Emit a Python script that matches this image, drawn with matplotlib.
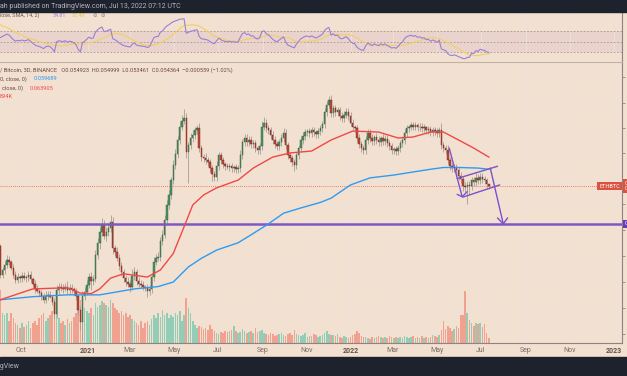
import numpy as np
import pandas as pd
import matplotlib
matplotlib.use("Agg")
import matplotlib.pyplot as plt
import matplotlib.dates as mdates
from matplotlib.patches import Rectangle
from matplotlib.transforms import blended_transform_factory

plt.rcParams['font.family'] = ['Roboto', 'DejaVu Sans']

# ETH/BTC, Binance, 3D candles; first visible candle opens 2020-09-02
first_day = "2020-09-02"

# closes before the visible range, only used to warm up the RSI
warmup_closes = [0.0255, 0.0258, 0.0262, 0.0258, 0.0256, 0.0262, 0.0283, 0.0303, 0.0292, 0.0300,
                 0.0338, 0.0340, 0.0333, 0.0345, 0.0355, 0.0346, 0.0338, 0.0352, 0.0360, 0.0389]

closes = [0.0331, 0.0340, 0.0350, 0.0360, 0.0356, 0.0344, 0.0331, 0.0322, 0.0327, 0.0325,
          0.0329, 0.0325, 0.0327, 0.0331, 0.0324, 0.0315, 0.0306, 0.0302, 0.0299, 0.0294,
          0.0288, 0.0294, 0.0296, 0.0293, 0.0285, 0.0266, 0.0304, 0.0310, 0.0308, 0.0306,
          0.0310, 0.0304, 0.0308, 0.0306, 0.0302, 0.0294, 0.0272, 0.0254, 0.0294, 0.0301,
          0.0313, 0.0327, 0.0320, 0.0324, 0.0370, 0.0395, 0.0420, 0.0437, 0.0412, 0.0420,
          0.0430, 0.0445, 0.0384, 0.0376, 0.0364, 0.0348, 0.0336, 0.0325, 0.0318, 0.0315,
          0.0310, 0.0329, 0.0336, 0.0320, 0.0315, 0.0313, 0.0310, 0.0308, 0.0302, 0.0306,
          0.0327, 0.0356, 0.0364, 0.0365, 0.0400, 0.0414, 0.0450, 0.0489, 0.0517, 0.0562,
          0.0611, 0.0650, 0.0703, 0.0758, 0.0783, 0.0795, 0.0657, 0.0683, 0.0711, 0.0723,
          0.0743, 0.0751, 0.0672, 0.0639, 0.0635, 0.0628, 0.0621, 0.0601, 0.0581, 0.0572,
          0.0607, 0.0646, 0.0628, 0.0614, 0.0607, 0.0604, 0.0607, 0.0601, 0.0604, 0.0598,
          0.0601, 0.0646, 0.0695, 0.0711, 0.0695, 0.0703, 0.0687, 0.0691, 0.0672, 0.0665,
          0.0679, 0.0758, 0.0775, 0.0751, 0.0743, 0.0723, 0.0703, 0.0687, 0.0679, 0.0695,
          0.0711, 0.0731, 0.0683, 0.0646, 0.0635, 0.0621, 0.0611, 0.0646, 0.0672, 0.0703,
          0.0719, 0.0735, 0.0739, 0.0731, 0.0743, 0.0735, 0.0727, 0.0739, 0.0751, 0.0768,
          0.0822, 0.0857, 0.0879, 0.0817, 0.0840, 0.0822, 0.0831, 0.0804, 0.0795, 0.0809,
          0.0822, 0.0804, 0.0775, 0.0758, 0.0751, 0.0711, 0.0687, 0.0672, 0.0665, 0.0703,
          0.0731, 0.0711, 0.0699, 0.0715, 0.0703, 0.0695, 0.0711, 0.0699, 0.0707, 0.0691,
          0.0679, 0.0665, 0.0668, 0.0661, 0.0672, 0.0691, 0.0703, 0.0731, 0.0751, 0.0758,
          0.0764, 0.0758, 0.0764, 0.0754, 0.0758, 0.0751, 0.0754, 0.0743, 0.0747, 0.0735,
          0.0743, 0.0739, 0.0731, 0.0743, 0.0683, 0.0672, 0.0665, 0.0628, 0.0607, 0.0601,
          0.0604, 0.0594, 0.0575, 0.0565, 0.0544, 0.0541, 0.0547, 0.0544, 0.0562, 0.0556,
          0.0569, 0.0562, 0.0572, 0.0565, 0.0562, 0.054923, 0.054364]

# wick lengths, percent above the body top / below the body bottom
wick_up = [1, 2, 2, 3, 2, 1, 2, 2, 2, 1,
           2, 2, 1, 2, 2, 1, 2, 2, 1, 2,
           2, 3, 2, 2, 1, 2, 3, 2, 2, 2,
           2, 3, 2, 2, 1, 2, 2, 2, 3, 3,
           3, 2, 3, 2, 3, 3, 3, 4, 3, 3,
           3, 4, 3, 2, 3, 2, 2, 2, 2, 3,
           2, 4, 3, 2, 2, 2, 2, 1, 2, 2,
           2, 3, 2, 3, 2, 3, 3, 3, 3, 2,
           3, 3, 2, 3, 3, 5, 3, 2, 3, 3,
           2, 2, 3, 2, 2, 3, 2, 2, 2, 2,
           3, 2, 2, 2, 1, 2, 2, 2, 1, 2,
           2, 3, 2, 2, 2, 2, 2, 2, 2, 1,
           2, 3, 3, 2, 2, 2, 2, 2, 2, 2,
           2, 3, 2, 2, 2, 2, 2, 2, 2, 2,
           2, 2, 1, 2, 2, 2, 1, 2, 2, 2,
           2, 2, 2, 3, 2, 2, 2, 2, 2, 2,
           2, 2, 2, 2, 1, 2, 2, 2, 2, 2,
           2, 2, 2, 1, 2, 2, 1, 2, 2, 2,
           2, 2, 1, 2, 2, 2, 2, 2, 2, 1,
           2, 2, 2, 1, 2, 2, 2, 1, 2, 2,
           2, 2, 2, 2, 4, 2, 2, 3, 2, 2,
           2, 2, 2, 2, 2, 2, 2, 2, 2, 2,
           3, 2, 2, 2, 2, 1, 0.14]
wick_down = [2, 2, 2, 2, 2, 1, 2, 2, 2, 2,
             2, 1, 2, 2, 2, 2, 2, 1, 2, 2,
             2, 2, 2, 1, 2, 3, 2, 2, 2, 2,
             1, 2, 2, 2, 2, 2, 3, 4, 10, 2,
             2, 2, 5, 2, 2, 2, 3, 2, 2, 3,
             2, 2, 3, 2, 2, 2, 2, 2, 2, 2,
             3, 2, 2, 2, 2, 2, 2, 2, 3, 2,
             2, 2, 2, 2, 2, 2, 2, 2, 2, 2,
             2, 2, 2, 2, 2, 2, 3, 16, 2, 2,
             2, 2, 2, 2, 2, 2, 2, 2, 4, 2,
             2, 2, 2, 2, 2, 1, 2, 2, 2, 2,
             2, 2, 2, 2, 2, 2, 2, 2, 2, 2,
             2, 2, 2, 2, 2, 2, 2, 2, 2, 2,
             2, 2, 2, 2, 2, 2, 3, 2, 2, 2,
             2, 2, 2, 2, 2, 2, 2, 2, 2, 2,
             2, 2, 2, 2, 2, 2, 2, 2, 2, 2,
             2, 2, 2, 2, 2, 2, 2, 2, 2, 2,
             2, 2, 2, 2, 2, 2, 2, 2, 2, 2,
             2, 2, 2, 2, 2, 2, 2, 2, 2, 2,
             2, 2, 2, 2, 2, 2, 2, 2, 2, 2,
             2, 2, 2, 2, 2, 2, 2, 2, 2, 2,
             2, 2, 2, 2, 3, 3, 9, 5, 2, 2,
             2, 2, 2, 2, 2, 2, 1.66]

# volume, millions of ETH
volume_m = [9.5, 5.4, 5.0, 5.4, 4.0, 5.4, 4.5, 3.6, 3.2, 2.7,
            3.6, 2.9, 3.2, 4.0, 2.7, 3.6, 4.0, 3.2, 4.5, 5.0,
            5.4, 4.0, 4.5, 5.0, 5.8, 6.8, 5.9, 4.5, 3.6, 4.0,
            3.2, 4.3, 3.6, 4.0, 4.7, 5.4, 6.8, 7.7, 8.1, 6.3,
            5.8, 5.4, 6.3, 5.0, 7.2, 6.5, 6.8, 7.6, 7.2, 6.8,
            6.5, 7.7, 7.2, 6.3, 5.9, 5.4, 5.8, 5.0, 5.4, 4.7,
            5.0, 4.3, 4.0, 3.6, 3.2, 4.0, 2.7, 3.6, 4.0, 3.2,
            4.3, 5.0, 4.5, 5.4, 4.7, 5.9, 5.0, 5.4, 4.5, 5.0,
            4.7, 5.4, 5.0, 5.8, 4.0, 5.0, 8.1, 6.3, 5.4, 4.0,
            3.2, 2.7, 3.1, 2.9, 2.5, 2.7, 2.3, 3.2, 2.5, 2.2,
            1.8, 1.6, 2.0, 1.8, 2.2, 2.0, 2.2, 2.3, 3.1, 2.2,
            1.8, 2.0, 2.5, 2.2, 1.8, 2.0, 2.2, 1.8, 2.7, 2.0,
            2.2, 2.3, 1.8, 1.6, 1.4, 1.8, 1.6, 1.3, 1.4, 1.6,
            1.8, 1.4, 1.3, 1.6, 1.8, 1.4, 2.3, 1.6, 1.4, 1.3,
            1.4, 1.8, 1.1, 1.3, 1.3, 1.6, 1.4, 1.1, 1.3, 1.4,
            1.8, 2.2, 1.6, 1.4, 1.4, 1.3, 1.6, 1.1, 0.9, 1.3,
            1.1, 0.9, 1.1, 1.4, 1.6, 2.2, 1.8, 1.3, 1.1, 1.1,
            0.9, 0.7, 1.1, 0.9, 1.1, 1.3, 1.1, 0.9, 1.1, 0.9,
            1.3, 1.1, 0.9, 1.1, 0.9, 1.1, 0.9, 1.3, 1.1, 0.9,
            1.1, 1.3, 0.9, 1.1, 0.9, 1.3, 0.9, 1.1, 0.9, 1.1,
            1.4, 1.3, 1.1, 1.4, 2.3, 4.0, 2.5, 3.1, 2.7, 2.2,
            2.5, 3.1, 2.7, 5.0, 5.0, 9.4, 5.4, 4.1, 3.6, 3.1,
            3.6, 3.4, 3.6, 2.9, 3.4, 1.8, 0.894]

# moving averages at some candles (candle index, price)
ma50_idx = [0, 15, 31, 37, 42, 46, 51, 57, 68, 74, 77, 80, 82, 85, 89, 94, 100, 110, 117,
            126, 134, 144, 153, 163, 175, 184, 191, 199, 205, 212, 219, 226]
ma50 = [0.0288, 0.0306, 0.0308, 0.0299, 0.0298, 0.0306, 0.0325, 0.0333, 0.0327, 0.0340,
        0.0356, 0.0373, 0.0396, 0.0433, 0.0489, 0.0517, 0.0538, 0.0562, 0.0601, 0.0639,
        0.0654, 0.0661, 0.0703, 0.0739, 0.0735, 0.0711, 0.0715, 0.0735, 0.0735, 0.0703,
        0.0672, 0.063905]
ma200_idx = [0, 15, 31, 46, 62, 73, 80, 87, 93, 100, 110, 116, 124, 131, 139, 148, 153,
             162, 171, 182, 190, 199, 205, 212, 221, 226]
ma200 = [0.0288, 0.0293, 0.0296, 0.0296, 0.0306, 0.0310, 0.0318, 0.0346, 0.0363, 0.0380,
         0.0396, 0.0414, 0.0440, 0.0467, 0.0481, 0.0496, 0.0508, 0.0547, 0.0569, 0.0578,
         0.0587, 0.0597, 0.0603, 0.0603, 0.0601, 0.059689]

# drawings
support_level = 0.0440
flag_pole = (["2022-05-18", "2022-06-05"], [0.0672, 0.0512])
flag_pole_head = (["2022-05-29", "2022-06-05", "2022-06-12"], [0.0519, 0.0512, 0.0527])
flag_top = (["2022-05-29", "2022-07-24"], [0.0567, 0.0607])
flag_bottom = (["2022-06-06", "2022-07-27"], [0.0511, 0.0547])
target = (["2022-07-14", "2022-08-01"], [0.0601, 0.0440])
target_head = (["2022-07-24", "2022-08-01", "2022-08-07"], [0.0455, 0.0440, 0.0455])

month_ticks = ["2020-10-01", "2021-01-01", "2021-03-01", "2021-05-01", "2021-07-01",
               "2021-09-01", "2021-11-01", "2022-01-01", "2022-03-01", "2022-05-01",
               "2022-07-01", "2022-09-01", "2022-11-01", "2023-01-01"]
month_labels = ["Oct", "2021", "Mar", "May", "Jul", "Sep", "Nov",
                "2022", "Mar", "May", "Jul", "Sep", "Nov", "2023"]
grid_prices = [0.1000, 0.0864, 0.0752, 0.0654, 0.0562, 0.0492, 0.0425, 0.0368, 0.0318,
               0.0275, 0.0238]

BG = "#f2e1d1"
DARK = "#1e222d"
GREEN, GREEN_EDGE = "#4f9463", "#2d5a3a"
RED, RED_EDGE = "#c4483a", "#6e2219"
WICK = "#a49c94"
GRID = "#ebe1d9"
TEXT = "#6b4a3e"
LEG = 4.05

W, H = 627, 376


def px(x, y):
    return x / W, 1 - y / H


def draw_candles(ax, x, o, h, l, c):
    up = c >= o
    ax.vlines(x, l, h, color=WICK, lw=0.6, zorder=2)
    for mask, face, edge in ((up, GREEN, GREEN_EDGE), (~up, RED, RED_EDGE)):
        ax.bar(x[mask], np.abs(c - o)[mask], bottom=np.minimum(o, c)[mask], width=2.0,
               color=face, edgecolor=edge, linewidth=0.3, zorder=3)


def draw_path(ax, pts, **kw):
    ax.plot(mdates.date2num(pd.to_datetime(pts[0])), pts[1], **kw)


c = np.array(closes)
o = np.concatenate([[warmup_closes[-1]], c[:-1]])
hi = np.maximum(o, c) * (1 + np.array(wick_up) / 100)
lo = np.minimum(o, c) * (1 - np.array(wick_down) / 100)
vol = np.array(volume_m)
n = len(c)
x = mdates.date2num(pd.date_range(first_day, periods=n, freq="3D").to_pydatetime())

# RSI 14 (Wilder) and its 14 SMA
s = pd.Series(warmup_closes + closes)
d = s.diff()
gain = d.clip(lower=0).ewm(alpha=1 / 14, adjust=False).mean()
loss = (-d.clip(upper=0)).ewm(alpha=1 / 14, adjust=False).mean()
rsi = 100 - 100 / (1 + gain / loss)
rsi_ma = rsi.rolling(14).mean()
rsi = rsi.values[-n:]
rsi_ma = rsi_ma.values[-n:]

x0 = mdates.date2num(pd.Timestamp(first_day)) - 0.5
x1 = x0 + 622 / 0.7205
p_lo, p_hi = 0.02262, 0.1087

fig = plt.figure(figsize=(W / 100, H / 100), dpi=100)
fig.patch.set_facecolor(BG)

main_rect = [0, 1 - 343 / H, 622 / W, (343 - 62) / H]

# background axes with the grid
bg = fig.add_axes(main_rect)
bg.set_facecolor(BG)
bg.set_yscale("log")
bg.set_xlim(x0, x1)
bg.set_ylim(p_lo, p_hi)
for t in month_ticks:
    bg.axvline(mdates.date2num(pd.Timestamp(t)), color=GRID, lw=0.7)
for p in grid_prices:
    bg.axhline(p, color=GRID, lw=0.7)
bg.axis("off")

# volume
vax = fig.add_axes(main_rect)
vax.set_facecolor("none")
vax.set_xlim(x0, x1)
vax.set_ylim(0, 50.4)
vol_up = c >= o
vax.bar(x[vol_up], vol[vol_up], width=2.2, color="#93cdb6", linewidth=0)
vax.bar(x[~vol_up], vol[~vol_up], width=2.2, color="#f0a18f", linewidth=0)
vax.axis("off")

# price
ax = fig.add_axes(main_rect)
ax.set_facecolor("none")
ax.set_yscale("log")
ax.set_xlim(x0, x1)
ax.set_ylim(p_lo, p_hi)

ax.axhline(c[-1], color="#ef5350", lw=0.6, ls=(0, (1, 1.5)), zorder=1)
ax.axhline(support_level, color="#7e57c2", lw=1.8, zorder=4)
ax.plot(x[ma200_idx], ma200, color="#2f9bf0", lw=1.0, zorder=4)
ax.plot(x[ma50_idx], ma50, color="#f04848", lw=1.0, zorder=4)
draw_candles(ax, x, o, hi, lo, c)

for pts in (flag_pole, flag_pole_head, flag_top, flag_bottom, target, target_head):
    draw_path(ax, pts, color="#7b52c9", lw=1.0, zorder=5, solid_capstyle="round")

for side in ("top", "left"):
    ax.spines[side].set_visible(False)
ax.spines["right"].set_color("#8c8480")
ax.spines["bottom"].set_color("#8c8480")
ax.spines["right"].set_linewidth(0.8)
ax.spines["bottom"].set_linewidth(0.8)
ax.yaxis.tick_right()
ax.set_yticks(grid_prices)
ax.set_yticks([], minor=True)
ax.tick_params(axis="y", length=2.5, width=0.6, color="#8c8480", labelright=False)
ax.set_xticks([mdates.date2num(pd.Timestamp(t)) for t in month_ticks])
ax.set_xticklabels(month_labels)
ax.tick_params(axis="x", length=0, pad=3, labelsize=5, labelcolor="#7a6e66")
for lab in ax.get_xticklabels():
    if lab.get_text().isdigit():
        lab.set_fontweight("bold")
        lab.set_color("#5e524b")

# price labels at the right edge (the axis labels run off the picture, as in the screenshot)
tr = blended_transform_factory(ax.transAxes, ax.transData)
ax.text(0.997, c[-1], "ETHBTC", transform=tr, ha="right", va="center", fontsize=4,
        color="white", zorder=6,
        bbox=dict(boxstyle="square,pad=0.35", fc="#d9533f", ec="none"))
ax.text(1.004, c[-1], "0.054364\n00:16:01", transform=tr, ha="left", va="center", fontsize=4.2,
        color="white", clip_on=False, zorder=6, linespacing=1.1,
        bbox=dict(boxstyle="square,pad=0.3", fc="#d9533f", ec="none"))
ax.text(1.004, support_level, "0.044000", transform=tr, ha="left", va="center", fontsize=4.2,
        color="white", clip_on=False, zorder=6,
        bbox=dict(boxstyle="square,pad=0.3", fc="#673ab7", ec="none"))

# RSI pane
rax = fig.add_axes([0, 1 - 62 / H, 622 / W, 50 / H])
rax.set_facecolor(BG)
rax.set_xlim(x0, x1)
rax.set_ylim(11.8, 105.7)
rax.axhspan(30, 70, color="#ead3cc", lw=0, zorder=0)
for t in month_ticks:
    rax.axvline(mdates.date2num(pd.Timestamp(t)), color=GRID, lw=0.7, zorder=0)
for lvl in (70, 50, 30):
    rax.axhline(lvl, color="#a39890", lw=0.6, ls=(0, (2, 2)), zorder=1)
rax.plot(x, rsi_ma, color="#f0d060", lw=0.8, zorder=2)
rax.plot(x, rsi, color="#9c7fd4", lw=0.8, zorder=3)
rax.set_xticks([])
rax.set_yticks([])
for side in ("top", "left"):
    rax.spines[side].set_visible(False)
rax.spines["right"].set_color("#8c8480")
rax.spines["right"].set_linewidth(0.8)
rax.spines["bottom"].set_color("#c2b2a5")
rax.spines["bottom"].set_linewidth(0.8)

# dark bars
fig.add_artist(Rectangle(px(0, 12), 1, 12 / H, transform=fig.transFigure, color=DARK, zorder=10))
fig.add_artist(Rectangle((0, 0), 1, 19 / H, transform=fig.transFigure, color=DARK, zorder=10))
fig.text(*px(0, 6.5), "ah published on TradingView.com, Jul 13, 2022 07:12 UTC", fontsize=5.0,
         color="#b2b5be", va="center", zorder=11)
fig.text(*px(19.5, 367), "TradingView", fontsize=5, color="#b2b5be", ha="right", va="center",
         zorder=11)

# legends
fig.text(*px(0, 15.5), "lose, SMA, 14, 2)", fontsize=3.9, color="#6b5a50", va="center")
fig.text(*px(53, 15.5), "34.81", fontsize=3.9, color="#9c7fd4", va="center")
fig.text(*px(72, 15.5), "32.48", fontsize=3.9, color="#e8c84a", va="center")
fig.text(*px(93, 15.5), "\u2298", fontsize=3.9, color="#8a7e76", va="center",
         family=["DejaVu Sans"])
fig.text(*px(101, 15.5), "\u2298", fontsize=3.9, color="#8a7e76", va="center",
         family=["DejaVu Sans"])

fig.text(*px(0.5, 70), "/ Bitcoin, 3D, BINANCE   O0.054923  H0.054999  L0.053461  "
         "C0.054364  \u22120.000559 (\u22121.02%)", fontsize=LEG, color=TEXT, va="center")
fig.text(*px(0, 79), "0, close, 0)", fontsize=LEG, color=TEXT, va="center")
fig.text(*px(34, 79), "0.059689", fontsize=LEG, color="#2f9bf0", va="center")
fig.text(*px(1.5, 88), "close, 0)", fontsize=LEG, color=TEXT, va="center")
fig.text(*px(30, 88), "0.063905", fontsize=LEG, color="#f04848", va="center")
fig.text(*px(0, 97), "894K", fontsize=LEG, color="#f04848", va="center")

fig.savefig("out.png", dpi=100, facecolor=BG)
